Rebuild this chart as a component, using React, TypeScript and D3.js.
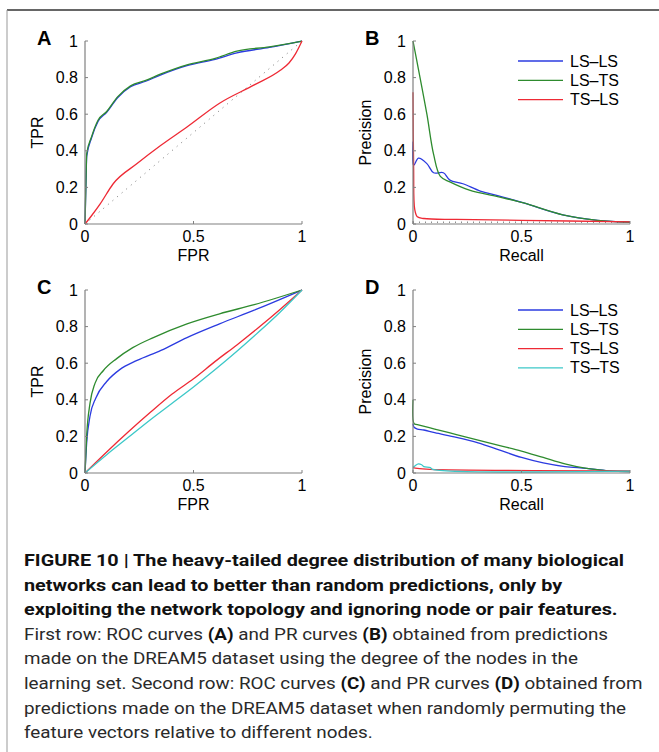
import React, { useLayoutEffect, useRef, useState } from 'react';
import * as d3 from 'd3';

type Pt = [number, number];

// ---- data ----
const rocA_LSLS: Pt[] = [[0, 0], [0.004, 0.2], [0.008, 0.37], [0.03, 0.47], [0.06, 0.56], [0.1, 0.61], [0.15, 0.69], [0.21, 0.75], [0.28, 0.78], [0.35, 0.815], [0.47, 0.865], [0.6, 0.9], [0.7, 0.935], [0.85, 0.965], [1, 1]];
const rocA_LSTS: Pt[] = [[0, 0], [0.004, 0.21], [0.008, 0.385], [0.03, 0.476], [0.06, 0.567], [0.1, 0.615], [0.15, 0.695], [0.21, 0.755], [0.28, 0.785], [0.35, 0.82], [0.47, 0.87], [0.6, 0.905], [0.7, 0.945], [0.85, 0.968], [1, 1]];
const rocA_TSLS: Pt[] = [[0, 0], [0.03, 0.045], [0.07, 0.11], [0.13, 0.22], [0.24, 0.33], [0.35, 0.43], [0.47, 0.53], [0.62, 0.66], [0.78, 0.76], [0.9, 0.84], [0.94, 0.88], [0.97, 0.93], [1, 1]];

const prB_LSLS: Pt[] = [[0, 0.45], [0.003, 0.32], [0.025, 0.36], [0.064, 0.33], [0.095, 0.28], [0.14, 0.28], [0.17, 0.24], [0.23, 0.22], [0.31, 0.18], [0.39, 0.155], [0.51, 0.115], [0.69, 0.05], [0.85, 0.02], [1, 0.01]];
const prB_LSTS: Pt[] = [[0, 1], [0.026, 0.84], [0.064, 0.6], [0.095, 0.38], [0.126, 0.26], [0.17, 0.23], [0.26, 0.185], [0.39, 0.15], [0.51, 0.115], [0.69, 0.05], [0.85, 0.02], [1, 0.01]];
const prB_TSLS: Pt[] = [[0, 0.72], [0.003, 0.3], [0.008, 0.08], [0.02, 0.04], [0.05, 0.03], [0.2, 0.025], [0.5, 0.02], [1, 0.012]];

const rocC_LSLS: Pt[] = [[0, 0], [0.008, 0.17], [0.023, 0.31], [0.05, 0.41], [0.1, 0.5], [0.16, 0.565], [0.24, 0.615], [0.35, 0.67], [0.47, 0.74], [0.62, 0.815], [0.78, 0.89], [1, 1]];
const rocC_LSTS: Pt[] = [[0, 0], [0.008, 0.21], [0.023, 0.38], [0.046, 0.49], [0.085, 0.56], [0.146, 0.625], [0.22, 0.685], [0.315, 0.74], [0.47, 0.815], [0.62, 0.87], [0.78, 0.92], [1, 1]];
const rocC_TSLS: Pt[] = [[0, 0], [0.1, 0.115], [0.2, 0.225], [0.3, 0.33], [0.4, 0.43], [0.5, 0.515], [0.6, 0.61], [0.7, 0.7], [0.8, 0.795], [0.9, 0.895], [1, 1]];
const rocC_TSTS: Pt[] = [[0, 0], [0.1, 0.1], [0.2, 0.195], [0.3, 0.29], [0.4, 0.38], [0.5, 0.47], [0.6, 0.565], [0.7, 0.665], [0.8, 0.77], [0.9, 0.88], [1, 1]];

const prD_LSLS: Pt[] = [[0, 0.27], [0.005, 0.25], [0.02, 0.24], [0.05, 0.235], [0.1, 0.22], [0.2, 0.195], [0.3, 0.165], [0.4, 0.125], [0.5, 0.085], [0.6, 0.055], [0.7, 0.035], [0.8, 0.025], [0.9, 0.012], [1, 0.008]];
const prD_LSTS: Pt[] = [[0, 0.4], [0.005, 0.27], [0.02, 0.265], [0.1, 0.24], [0.2, 0.21], [0.3, 0.18], [0.4, 0.15], [0.5, 0.12], [0.6, 0.085], [0.7, 0.05], [0.8, 0.025], [0.9, 0.012], [1, 0.008]];
const prD_TSLS: Pt[] = [[0, 0.03], [0.02, 0.025], [0.08, 0.02], [1, 0.012]];
const prD_TSTS: Pt[] = [[0, 0.03], [0.01, 0.04], [0.025, 0.05], [0.04, 0.045], [0.05, 0.035], [0.08, 0.03], [0.09, 0.02], [1, 0.01]];

const xTicks = [0, 0.5, 1];
const yTicks = [0, 0.2, 0.4, 0.6, 0.8, 1];
const seriesNames = ['LS\u2013LS', 'LS\u2013TS', 'TS\u2013LS', 'TS\u2013TS'];
const seriesColors = ['#2b3be0', '#2e8b2e', '#ee2a35', '#3cc8c8'];

const captionBold = [
  'FIGURE 10 | The heavy-tailed degree distribution of many biological',
  'networks can lead to better than random predictions, only by',
  'exploiting the network topology and ignoring node or pair features.',
];
// segments: [text, bold]
const captionBody: [string, boolean][][] = [
  [['First row: ROC curves ', false], ['(A)', true], [' and PR curves ', false], ['(B)', true], [' obtained from predictions', false]],
  [['made on the DREAM5 dataset using the degree of the nodes in the', false]],
  [['learning set. Second row: ROC curves ', false], ['(C)', true], [' and PR curves ', false], ['(D)', true], [' obtained from', false]],
  [['predictions made on the DREAM5 dataset when randomly permuting the', false]],
  [['feature vectors relative to different nodes.', false]],
];
// target widths of the widest bold line and the widest normal line
const boldTargetWidth = 594;
const bodyTargetWidth = 619;

const FONT = '"Liberation Sans", Arial, sans-serif';

interface PanelProps {
  left: number; top: number; width: number; height: number;
  label: string; xLabel: string; yLabel: string;
  series: Pt[][]; diag?: 'roc' | 'pr'; legend?: boolean; roc?: boolean;
}

function Panel({ left, top, width, height, label, xLabel, yLabel, series, diag, legend, roc }: PanelProps) {
  const x = d3.scaleLinear().domain([0, 1]).range([left, left + width]);
  const y = d3.scaleLinear().domain([0, 1]).range([top + height, top]);
  const line = d3.line<Pt>().x(d => x(d[0])).y(d => y(d[1]))
    .curve(roc ? d3.curveMonotoneX : d3.curveCatmullRom.alpha(0.5));
  const axisColor = '#808080';
  return (
    <g fontFamily={FONT} fill="#000">
      <text x={left - 48} y={top + 4} fontSize={20} fontWeight="bold">{label}</text>
      {diag === 'roc' && (
        <line x1={x(0)} y1={y(0)} x2={x(1)} y2={y(1)} stroke="#777" strokeWidth={1} strokeDasharray="1,5" />
      )}
      {diag === 'pr' && (
        <line x1={x(0)} y1={y(0.01)} x2={x(1)} y2={y(0.01)} stroke="#555" strokeWidth={1} strokeDasharray="1,5" />
      )}
      {series.map((s, i) => (
        <path key={i} d={line(s) || ''} fill="none" stroke={seriesColors[i]} strokeWidth={1.3} />
      ))}
      <line x1={x(0)} y1={y(0)} x2={x(1)} y2={y(0)} stroke={axisColor} strokeWidth={1.2} />
      <line x1={x(0)} y1={y(0)} x2={x(0)} y2={y(1)} stroke={axisColor} strokeWidth={1.2} />
      {xTicks.map(t => (
        <g key={'x' + t}>
          <line x1={x(t)} x2={x(t)} y1={y(0)} y2={y(0) - 3} stroke={axisColor} />
          <text x={x(t)} y={y(0) + 18} fontSize={16} textAnchor="middle">{d3.format('')(t)}</text>
        </g>
      ))}
      {yTicks.map(t => (
        <g key={'y' + t}>
          <line x1={x(0)} x2={x(0) + 3} y1={y(t)} y2={y(t)} stroke={axisColor} />
          <text x={x(0) - 7} y={y(t) + 5.5} fontSize={16} textAnchor="end">{d3.format('')(t)}</text>
        </g>
      ))}
      <text x={x(0.5)} y={y(0) + 37} fontSize={16} textAnchor="middle">{xLabel}</text>
      <text transform={`translate(${left - 42},${top + height / 2}) rotate(-90)`} fontSize={16} textAnchor="middle">{yLabel}</text>
      {legend && series.map((_, i) => (
        <g key={'l' + i}>
          <line x1={left + 105} x2={left + 150} y1={top + 20 + i * 19.3} y2={top + 20 + i * 19.3} stroke={seriesColors[i]} strokeWidth={1.3} />
          <text x={left + 157} y={top + 25.5 + i * 19.3} fontSize={16}>{seriesNames[i]}</text>
        </g>
      ))}
    </g>
  );
}

export default function App() {
  const capFont = 'Roboto, "Liberation Sans", sans-serif';
  const capTop = 566;
  const capStep = 24.6;
  const boldRef = useRef<SVGTextElement>(null);
  const bodyRef = useRef<SVGTextElement>(null);
  const [scales, setScales] = useState<[number, number]>([1, 1]);

  useLayoutEffect(() => {
    if (!boldRef.current || !bodyRef.current) return;
    const bw = boldRef.current.getComputedTextLength();
    const nw = bodyRef.current.getComputedTextLength();
    if (bw > 0 && nw > 0) setScales([boldTargetWidth / bw, bodyTargetWidth / nw]);
  }, []);

  return (
    <div style={{ position: 'absolute', left: 0, top: 0 }}>
      <svg width={659} height={752} style={{ display: 'block', background: '#fff' }}>
        <line x1={7} y1={10} x2={659} y2={10} stroke="#333" strokeWidth={1.5} />
        <line x1={7} y1={10} x2={7} y2={752} stroke="#999" strokeWidth={1} />
        <Panel left={85} top={41} width={217} height={183} label="A" xLabel="FPR" yLabel="TPR"
          series={[rocA_LSLS, rocA_LSTS, rocA_TSLS]} diag="roc" roc />
        <Panel left={413} top={41} width={217} height={183} label="B" xLabel="Recall" yLabel="Precision"
          series={[prB_LSLS, prB_LSTS, prB_TSLS]} diag="pr" legend />
        <Panel left={85} top={290} width={217} height={183} label="C" xLabel="FPR" yLabel="TPR"
          series={[rocC_LSLS, rocC_LSTS, rocC_TSLS, rocC_TSTS]} roc />
        <Panel left={413} top={290} width={217} height={183} label="D" xLabel="Recall" yLabel="Precision"
          series={[prD_LSLS, prD_LSTS, prD_TSLS, prD_TSTS]} legend />
        <g fontFamily={capFont} fontSize={17} fill="#111">
          {captionBold.map((t, i) => (
            <text key={'b' + i} ref={i === 2 ? boldRef : undefined}
              transform={`translate(24,${capTop + i * capStep}) scale(${scales[0]},1)`} fontWeight="bold">{t}</text>
          ))}
          {captionBody.map((segs, i) => (
            <text key={'n' + i} ref={i === 2 ? bodyRef : undefined}
              transform={`translate(24,${capTop + (i + 3) * capStep}) scale(${scales[1]},1)`} fill="#2a2a2a">
              {segs.map(([s, b], j) => (
                <tspan key={j} fontWeight={b ? 'bold' : 'normal'} fill={b ? '#111' : '#2a2a2a'}>{s}</tspan>
              ))}
            </text>
          ))}
        </g>
      </svg>
    </div>
  );
}
